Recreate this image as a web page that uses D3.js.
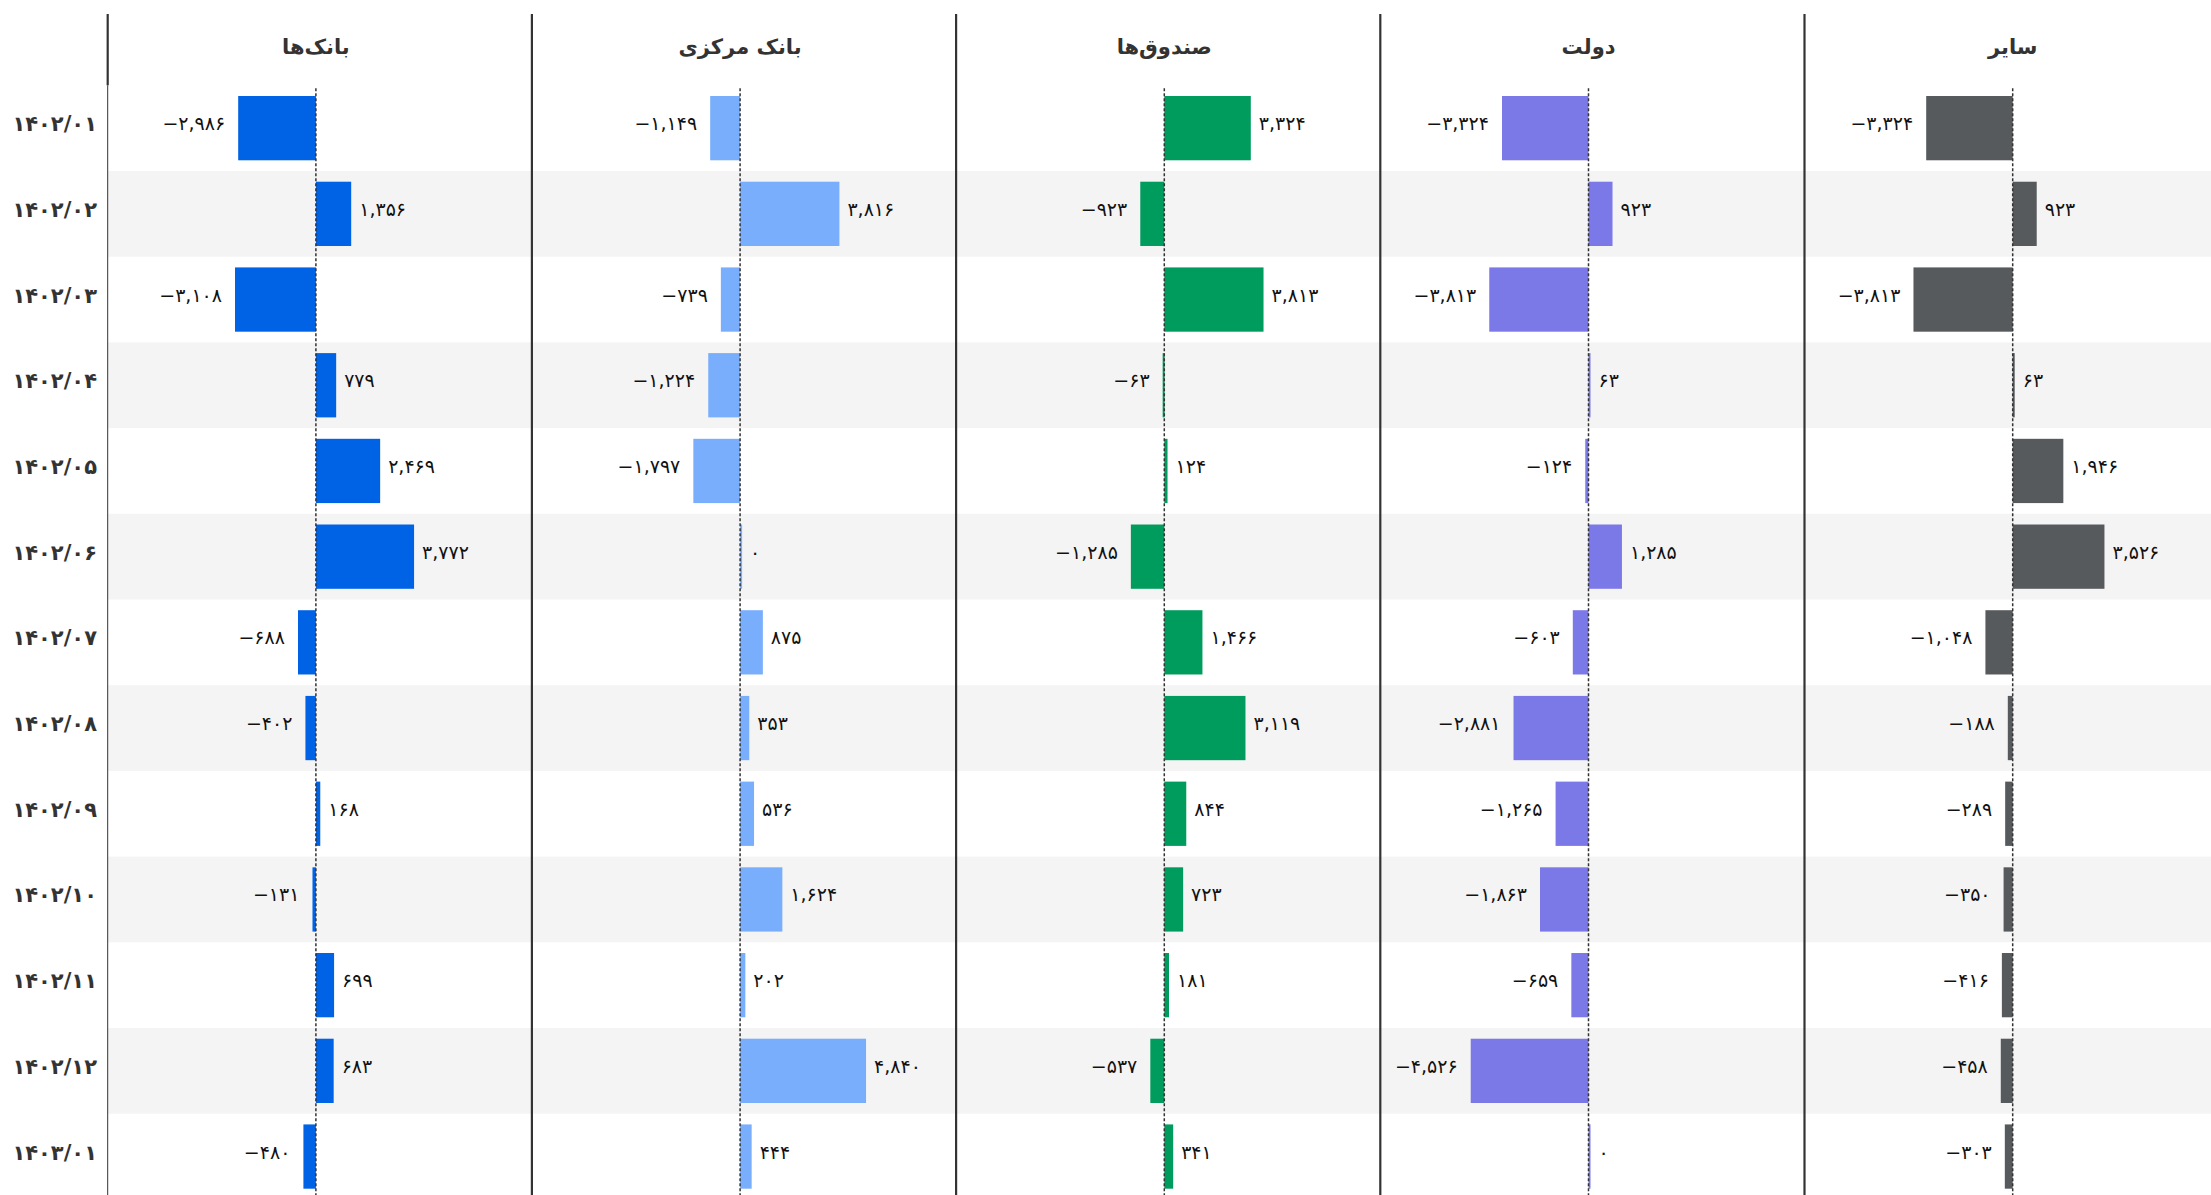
<!DOCTYPE html>
<html lang="fa">
<head>
<meta charset="utf-8">
<script src="https://cdn.jsdelivr.net/npm/d3@7"></script>
<style>
  html, body { margin: 0; padding: 0; background: #fff; }
  svg { display: block; }
  text { font-family: "DejaVu Sans", "Noto Sans", sans-serif; }
</style>
</head>
<body>
<svg id="chart" width="2211" height="1195"></svg>
<script>
// ---- Data ----
const months = ["۱۴۰۲/۰۱","۱۴۰۲/۰۲","۱۴۰۲/۰۳","۱۴۰۲/۰۴","۱۴۰۲/۰۵","۱۴۰۲/۰۶","۱۴۰۲/۰۷","۱۴۰۲/۰۸","۱۴۰۲/۰۹","۱۴۰۲/۱۰","۱۴۰۲/۱۱","۱۴۰۲/۱۲","۱۴۰۳/۰۱"];
const seriesNames = ["بانک‌ها","بانک مرکزی","صندوق‌ها","دولت","سایر"];
const banks   = [-2986, 1356, -3108, 779, 2469, 3772, -688, -402, 168, -131, 699, 683, -480];
const central = [-1149, 3816, -739, -1224, -1797, 0, 875, 353, 536, 1624, 202, 4840, 444];
const funds   = [3324, -923, 3813, -63, 124, -1285, 1466, 3119, 844, 723, 181, -537, 341];
const govt    = [-3324, 923, -3813, 63, -124, 1285, -603, -2881, -1265, -1863, -659, -4526, 0];
const others  = [-3324, 923, -3813, 63, 1946, 3526, -1048, -188, -289, -350, -416, -458, -303];
const seriesColors = ["#0062e5", "#79aefc", "#009c5d", "#7b78e7", "#565a5d"];

const seriesValues = [banks, central, funds, govt, others];

// ---- Layout ----
const W = 2211, H = 1195;
const plotLeft = 107.7;
const panelW = 424.2;
const headerTop = 14;
const rowsTop = 85.3;
const rowH = 85.7;

const svg = d3.select("#chart");

const y = d3.scaleBand()
  .domain(months)
  .range([rowsTop, rowsTop + rowH * months.length])
  .paddingInner(0.25)
  .paddingOuter(0.125);

const bandY = d3.scaleBand()
  .domain(months)
  .range([rowsTop, rowsTop + rowH * months.length])
  .padding(0);

const x = d3.scaleLinear().domain([-8000, 8300]).range([0, panelW]);

const toFa = s => s.replace(/[0-9]/g, d => "۰۱۲۳۴۵۶۷۸۹"[+d]);
const fmt = v => toFa(d3.format(",")(v));

// alternating row shading
svg.append("g").selectAll("rect")
  .data(months.filter((m, i) => i % 2 === 1))
  .join("rect")
  .attr("x", plotLeft)
  .attr("y", d => bandY(d))
  .attr("width", W - plotLeft)
  .attr("height", bandY.bandwidth())
  .attr("fill", "#f4f4f4");

// row labels
svg.append("g").selectAll("text")
  .data(months)
  .join("text")
  .attr("x", 97)
  .attr("y", d => bandY(d) + bandY.bandwidth() / 2 - 4)
  .attr("text-anchor", "end")
  .attr("dominant-baseline", "central")
  .attr("direction", "ltr")
  .attr("font-size", 21)
  .attr("font-weight", "bold")
  .attr("fill", "#333")
  .text(d => d);

// left axis line (thin for data area, thick in header)
svg.append("line")
  .attr("x1", plotLeft).attr("x2", plotLeft)
  .attr("y1", rowsTop).attr("y2", H)
  .attr("stroke", "#333").attr("stroke-width", 1);

seriesNames.forEach((name, si) => {
  const left = plotLeft + si * panelW;
  const g = svg.append("g").attr("transform", `translate(${left},0)`);
  const vals = seriesValues[si];
  const data = months.map((m, i) => ({ m, v: vals[i] }));

  // title
  g.append("text")
    .attr("x", x(0))
    .attr("y", 47)
    .attr("text-anchor", "middle")
    .attr("dominant-baseline", "central")
    .attr("font-size", 21)
    .attr("font-weight", "bold")
    .attr("fill", "#333")
    .text(name);

  // bars
  g.append("g").selectAll("rect")
    .data(data)
    .join("rect")
    .attr("x", d => d.v < 0 ? x(d.v) : x(0))
    .attr("y", d => y(d.m))
    .attr("width", d => Math.max(2, Math.abs(x(d.v) - x(0))))
    .attr("height", y.bandwidth())
    .attr("fill", seriesColors[si]);

  // value labels
  g.append("g").selectAll("text")
    .data(data)
    .join("text")
    .attr("x", d => d.v < 0 ? x(d.v) - 13 : x(0) + Math.max(2, x(d.v) - x(0)) + 8)
    .attr("y", d => y(d.m) + y.bandwidth() / 2 - 5)
    .attr("text-anchor", d => d.v < 0 ? "end" : "start")
    .attr("dominant-baseline", "central")
    .attr("direction", "ltr")
    .attr("font-size", 19)
    .attr("fill", "#111")
    .text(d => fmt(d.v));

  // zero line
  g.append("line")
    .attr("x1", x(0)).attr("x2", x(0))
    .attr("y1", rowsTop + 3).attr("y2", H)
    .attr("stroke", "#333")
    .attr("stroke-width", 1.5)
    .attr("stroke-dasharray", "3,2");

  // panel left border
  svg.append("line")
    .attr("x1", left).attr("x2", left)
    .attr("y1", headerTop).attr("y2", si === 0 ? rowsTop : H)
    .attr("stroke", "#333")
    .attr("stroke-width", 2.2);
});
</script>
</body>
</html>
